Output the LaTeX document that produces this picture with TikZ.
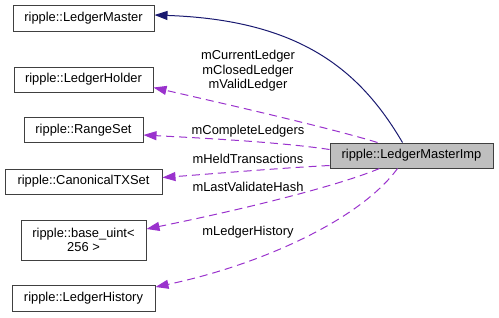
\documentclass[tikz,border=0pt]{standalone}
\usepackage{fontspec}
\setmainfont{Liberation Sans}
\usetikzlibrary{arrows.meta}

\definecolor{edgeblue}{HTML}{191970}
\definecolor{edgepurple}{HTML}{9A32CD}

\tikzset{
    classbox/.style={draw=black!75, line width=1pt, fill=white, inner sep=0pt, align=center},
    member/.style={edgepurple, line width=1pt, dash pattern=on 8pt off 5pt, -{Triangle[length=13pt,width=9pt]}},
    base/.style={edgeblue, line width=1pt, -{Triangle[length=13pt,width=9pt]}},
    lbl/.style={inner sep=0pt, align=center}
}

\begin{document}
\begin{tikzpicture}[x=1pt, y=-1pt, font=\fontsize{12.9}{14.5}\selectfont]
            \useasboundingbox (0,0) rectangle (499,317);

            \node[classbox, minimum width=141pt, minimum height=26pt] (master) at (83.5,18) {ripple::LedgerMaster};
            \node[classbox, minimum width=139pt, minimum height=25pt] (holder) at (83.5,79.5) {ripple::LedgerHolder};
            \node[classbox, minimum width=119pt, minimum height=25pt] (rangeset) at (83.5,130) {ripple::RangeSet};
            \node[classbox, minimum width=157pt, minimum height=25pt] (txset) at (83.5,181.5) {ripple::CanonicalTXSet};
            \node[classbox, minimum width=125pt, minimum height=40pt] (uint) at (83.5,240) {ripple::base\_uint<\\256 >};
            \node[classbox, minimum width=143pt, minimum height=26pt] (history) at (83.5,298.5) {ripple::LedgerHistory};

            \node[classbox, fill=black!25, minimum width=163pt, minimum height=25pt] (imp) at (411.5,155.5) {ripple::LedgerMasterImp};

            \draw[base] ([xshift=73pt]imp.north west) .. controls (360,70) and (300,20) .. ([yshift=3pt]master.east);

            \draw[member] ([xshift=48pt]imp.north west) .. controls (330,128) and (230,105) .. ([yshift=-8pt]holder.east);
            \draw[member] ([yshift=6pt]imp.west) .. controls (280,142) and (200,138) .. ([yshift=-5pt]rangeset.east);
            \draw[member] ([yshift=3pt]imp.south west) .. controls (280,168) and (210,174) .. ([yshift=4pt]txset.east);
            \draw[member] ([xshift=50pt]imp.south west) .. controls (340,185) and (250,208) .. ([yshift=11pt]uint.east);
            \draw[member] ([xshift=68pt]imp.south west) .. controls (360,220) and (260,265) .. ([yshift=11.5pt]history.east);

            \node[lbl] (holderlbl) at (248,71) {mCurrentLedger\\mClosedLedger\\mValidLedger};
            \node[lbl] (rangelbl) at (248,131) {mCompleteLedgers};
            \node[lbl] (txlbl) at (248,159) {mHeldTransactions};
            \node[lbl] (uintlbl) at (248,187) {mLastValidateHash};
            \node[lbl] (historylbl) at (248,232) {mLedgerHistory};
        \end{tikzpicture}
\end{document}
